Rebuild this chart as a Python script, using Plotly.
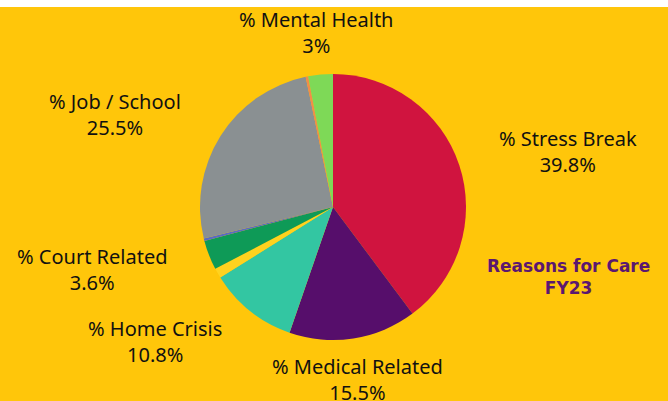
import plotly.graph_objects as go

labels = ["% Stress Break", "% Medical Related", "% Home Crisis", "Other A",
          "% Court Related", "Other B", "% Job / School", "Other C", "% Mental Health"]
values = [39.8, 15.5, 10.8, 1.2, 3.6, 0.3, 25.5, 0.3, 3.0]
shown = [True, True, True, False, True, False, True, False, True]
colors = ["#D0143F", "#560E6B", "#33C6A2", "#FFD21F", "#0E9A57",
          "#5A6BC2", "#8A9092", "#F28B4B", "#7ED957"]

# label placement (px from top-left) for the labelled slices
W, H = 668, 401
label_pos = {
    "% Stress Break": (568, 151),
    "% Medical Related": (358, 379),
    "% Home Crisis": (155, 341),
    "% Court Related": (93, 269),
    "% Job / School": (115, 114),
    "% Mental Health": (316, 32),
}

fig = go.Figure(go.Pie(
    labels=labels, values=values, sort=False, direction="clockwise", rotation=0,
    marker=dict(colors=colors, line=dict(width=0)),
    textinfo="none", hoverinfo="skip",
    domain=dict(x=[200 / W, 466 / W], y=[1 - 340 / H, 1 - 74 / H]),
))

annotations = []
for lab, val, s in zip(labels, values, shown):
    if not s:
        continue
    px, py = label_pos[lab]
    annotations.append(dict(
        x=px / W, y=1 - py / H, xref="paper", yref="paper",
        text=f"{lab}<br>{val:g}%", showarrow=False,
        xanchor="center", yanchor="middle", align="center",
        font=dict(family="Noto Sans", size=20, color="#111111"),
    ))
annotations.append(dict(
    x=568 / W, y=1 - 277 / H, xref="paper", yref="paper",
    text="<b>Reasons for Care<br>FY23</b>", showarrow=False,
    xanchor="center", yanchor="middle", align="center",
    font=dict(family="DejaVu Sans", size=17, color="#5B1770"),
))

fig.update_layout(
    width=W, height=H, margin=dict(l=0, r=0, t=0, b=0),
    paper_bgcolor="#FFC60A", plot_bgcolor="#FFC60A",
    showlegend=False, annotations=annotations,
    shapes=[dict(type="rect", xref="paper", yref="paper", x0=0, x1=1,
                 y0=1 - 7 / H, y1=1, fillcolor="white", line=dict(width=0),
                 layer="below")],
)

fig.write_html("out.html", config={"displayModeBar": False},
               post_script="document.body.style.margin='0';")
